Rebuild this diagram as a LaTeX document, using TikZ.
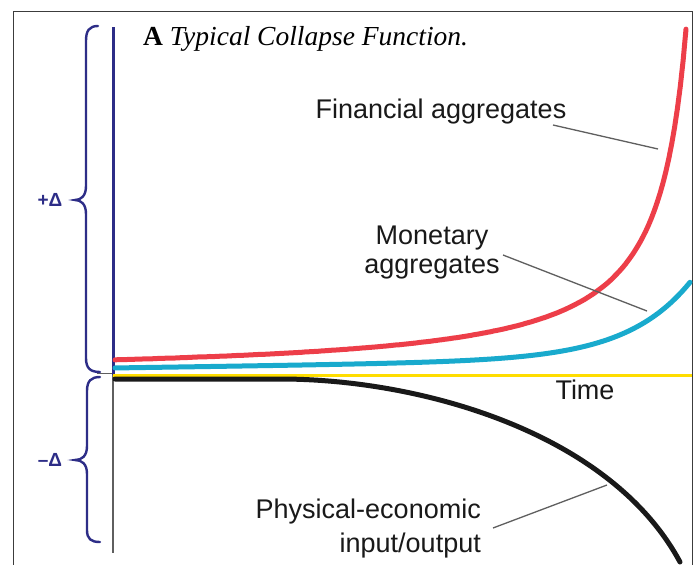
\documentclass[tikz,border=0pt]{standalone}
\usepackage{fontspec}
\setmainfont{Liberation Serif}
\newfontfamily\labfont{Liberation Sans}
\definecolor{navy}{RGB}{45,45,135}
\definecolor{fred}{RGB}{237,62,73}
\definecolor{mcyan}{RGB}{25,170,205}
\definecolor{tyellow}{RGB}{255,221,0}
\definecolor{pblack}{RGB}{25,25,25}
\definecolor{framegray}{RGB}{60,60,60}
\definecolor{leadgray}{RGB}{95,95,95}
\begin{document}
\begin{tikzpicture}[x=1pt,y=-1pt,
  lab/.style={inner sep=0pt,font=\labfont\fontsize{27}{31}\selectfont,text=black!90},
  delta/.style={inner sep=0pt,font=\labfont\bfseries\fontsize{19}{22}\selectfont,text=navy},
  bracepath/.style={draw=navy,line width=2.4pt,line cap=round},
  leader/.style={draw=leadgray,line width=1.3pt},
  curve/.style={line width=5pt,line cap=round}]
\useasboundingbox (0,0) rectangle (697,565);
\fill[white] (0,0) rectangle (697,565);
% frame
\draw[framegray,line width=1pt] (13,565) -- (13,11) -- (692,11) -- (692,565);
% title
\node[anchor=base west,inner sep=0pt,font=\fontsize{27.5}{31}\selectfont] (title) at (143,45) {\textbf{A} \textit{Typical Collapse Function.}};
% axes
\draw[leadgray,line width=1.5pt] (113,375) -- (113,553);
\draw[leadgray,line width=1pt] (97,373) -- (113,373);
\draw[navy,line width=3pt] (113,27) -- (113,375);
\draw[tyellow,line width=3pt] (113,375) -- (692,375);
% curves
\draw[curve,pblack] (115,379) -- (280,379) .. controls (420,379) and (610,432) .. (680,562);
\draw[curve,mcyan] plot[domain=115:690,samples=150] (\x,{368 - 0.015*(\x-113) - 0.0085*exp(0.0158*(\x-113))});
\draw[curve,fred] plot[domain=115:686,samples=200] (\x,{360 - 10076*(1/(715-\x) - 1/602)});
% braces
\draw[bracepath] (98,26) .. controls (89,26) and (86,31) .. (86,41) -- (86,186) .. controls (86,196) and (81,200) .. (75,200) .. controls (81,200) and (86,204) .. (86,214) -- (86,358) .. controls (86,368) and (90,372) .. (100,372);
\draw[bracepath] (100,377) .. controls (91,377) and (87,381) .. (87,391) -- (87,446) .. controls (87,456) and (82,460) .. (75,460) .. controls (82,460) and (87,464) .. (87,474) -- (87,530) .. controls (87,539) and (91,542) .. (100,542);
\node[delta] (plusd) at (50,200) {+Δ};
\node[delta] (minusd) at (50,460) {\textendash Δ};
% labels
\node[lab,anchor=base] (fin) at (441,118) {Financial aggregates};
\node[lab,anchor=base] (mon1) at (432,244) {Monetary};
\node[lab,anchor=base] (mon2) at (432,273) {aggregates};
\node[lab,anchor=base] (time) at (585,399) {Time};
\node[lab,anchor=base east] (phy1) at (481,518) {Physical-economic};
\node[lab,anchor=base east] (phy2) at (481,552) {input/output};
% leaders
\coordinate (finS) at (553,125);
\coordinate (finE) at (658,149);
\coordinate (monS) at (503,255);
\coordinate (monE) at (647,311);
\coordinate (phyS) at (493,528);
\coordinate (phyE) at (607,485);
\draw[leader] (finS) -- (finE);
\draw[leader] (monS) -- (monE);
\draw[leader] (phyS) -- (phyE);
\end{tikzpicture}
\end{document}
